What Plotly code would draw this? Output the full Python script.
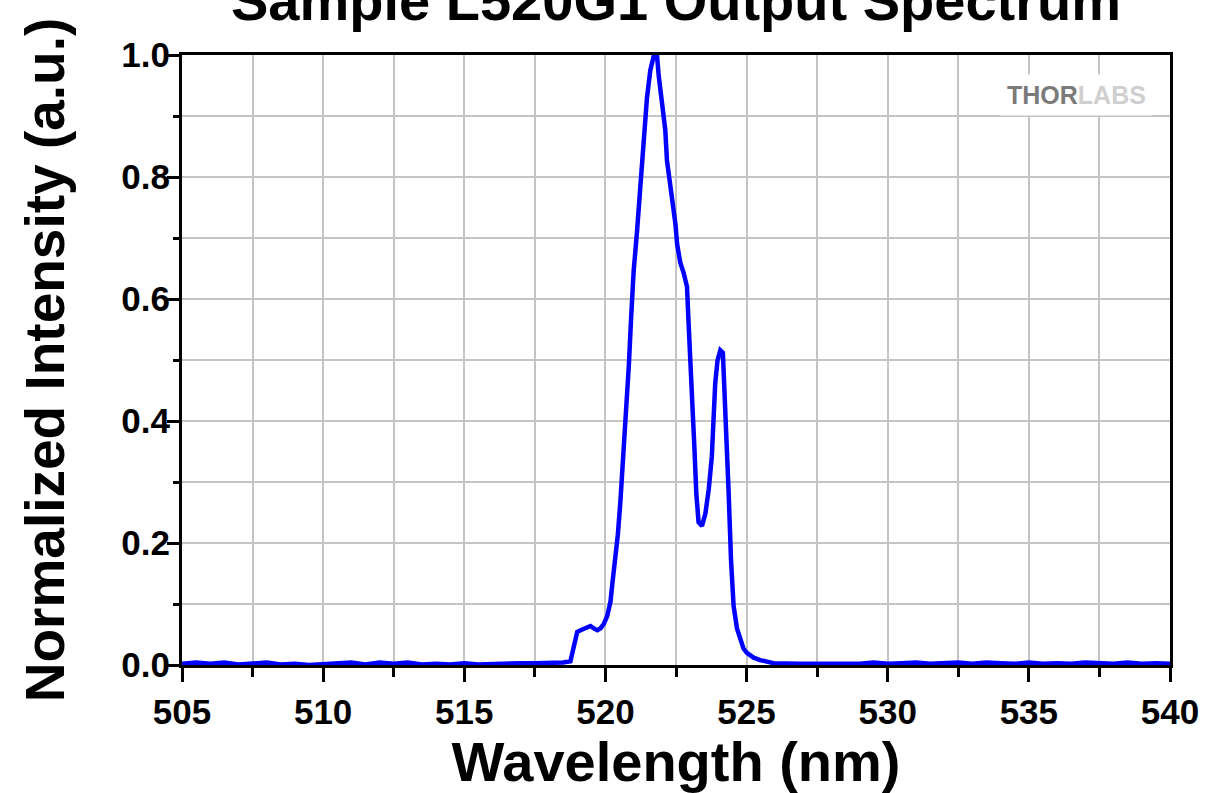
import plotly.graph_objects as go

FONT = "Arial, Liberation Sans, sans-serif"

wavelength_nm = [
    505.0, 505.5, 506.0, 506.5, 507.0, 507.5, 508.0, 508.5, 509.0, 509.5,
    510.0, 510.5, 511.0, 511.5, 512.0, 512.5, 513.0, 513.5, 514.0, 514.5,
    515.0, 515.5, 516.0, 516.5, 517.0, 517.5, 518.0, 518.5, 518.76, 518.82,
    518.94, 519.00, 519.12, 519.29, 519.47, 519.59, 519.71, 519.82, 519.94, 520.06,
    520.18, 520.24, 520.35, 520.44, 520.53, 520.63, 520.71, 520.83, 520.91, 521.00,
    521.12, 521.21, 521.30, 521.42, 521.47, 521.59, 521.71, 521.77, 521.83, 521.89,
    522.00, 522.12, 522.18, 522.30, 522.42, 522.48, 522.54, 522.65, 522.77, 522.89,
    522.95, 523.07, 523.15, 523.22, 523.30, 523.42, 523.54, 523.66, 523.77, 523.83,
    523.89, 523.97, 524.07, 524.16, 524.25, 524.36, 524.45, 524.54, 524.66, 524.78,
    524.89, 525.01, 525.25, 525.48, 525.96, 526.90, 527.5, 528.0, 528.5, 529.0,
    529.5, 530.0, 530.5, 531.0, 531.5, 532.0, 532.5, 533.0, 533.5, 534.0,
    534.5, 535.0, 535.5, 536.0, 536.5, 537.0, 537.5, 538.0, 538.5, 539.0,
    539.5, 540.0,
]

intensity = [
    0.002, 0.004, 0.002, 0.004, 0.001, 0.003, 0.004, 0.001, 0.002, 0.000,
    0.001, 0.002, 0.004, 0.001, 0.004, 0.002, 0.004, 0.001, 0.002, 0.001,
    0.003, 0.001, 0.002, 0.003, 0.003, 0.003, 0.003, 0.004, 0.006, 0.020,
    0.040, 0.054, 0.057, 0.060, 0.064, 0.060, 0.057, 0.060, 0.067, 0.080,
    0.104, 0.131, 0.171, 0.214, 0.268, 0.335, 0.409, 0.492, 0.569, 0.646,
    0.711, 0.768, 0.820, 0.877, 0.929, 0.975, 0.998, 1.000, 0.998, 0.965,
    0.924, 0.877, 0.827, 0.787, 0.750, 0.723, 0.690, 0.660, 0.643, 0.620,
    0.556, 0.455, 0.358, 0.281, 0.234, 0.228, 0.248, 0.288, 0.342, 0.403,
    0.462, 0.499, 0.516, 0.512, 0.425, 0.288, 0.171, 0.097, 0.060, 0.040,
    0.027, 0.020, 0.012, 0.008, 0.003, 0.002, 0.002, 0.002, 0.003, 0.002,
    0.004, 0.002, 0.003, 0.004, 0.002, 0.003, 0.004, 0.002, 0.004, 0.003,
    0.002, 0.004, 0.002, 0.003, 0.002, 0.004, 0.003, 0.002, 0.004, 0.002,
    0.003, 0.002,
]

x_ticks = [505, 510, 515, 520, 525, 530, 535, 540]
y_ticks = [0.0, 0.2, 0.4, 0.6, 0.8, 1.0]

fig = go.Figure(go.Scatter(
    x=wavelength_nm, y=intensity,
    mode="lines",
    line=dict(color="#0000FF", width=4.5),
    showlegend=False,
))

grid = "#c4c4c4"
tick_font = dict(size=35, family=FONT, weight="bold")
fig.update_layout(
    width=1209, height=793,
    paper_bgcolor="white", plot_bgcolor="white",
    margin=dict(l=182, r=39, t=55, b=128, autoexpand=False),
    font=dict(family=FONT, color="black"),
    title=dict(
        text="<b>Sample L520G1 Output Spectrum</b>",
        font=dict(size=56, family=FONT),
        x=0.5, xref="paper", xanchor="center",
        y=1.0, yref="container", yanchor="middle",
        automargin=False,
    ),
)
fig.update_xaxes(
    range=[505, 540], tickvals=x_ticks, automargin=False,
    ticks="outside", ticklen=14, tickwidth=3, tickcolor="black",
    showline=True, linewidth=3, linecolor="black", mirror=True,
    showgrid=True, gridcolor=grid, gridwidth=2,
    minor=dict(dtick=2.5, ticks="outside", ticklen=9, tickwidth=3,
               tickcolor="black", showgrid=True, gridcolor=grid, gridwidth=2),
    tickfont=tick_font,
    title=dict(text="<b>Wavelength (nm)</b>", font=dict(size=56, family=FONT),
               standoff=8),
    zeroline=False,
)
fig.update_yaxes(
    range=[0, 1.0], tickvals=y_ticks, tickformat=".1f", automargin=False,
    ticks="outside", ticklen=12, tickwidth=3, tickcolor="black",
    ticklabelstandoff=-10,
    showline=True, linewidth=3, linecolor="black", mirror=True,
    showgrid=True, gridcolor=grid, gridwidth=2,
    minor=dict(dtick=0.1, ticks="outside", ticklen=6, tickwidth=3,
               tickcolor="black", showgrid=True, gridcolor=grid, gridwidth=2),
    tickfont=tick_font,
    title=dict(text="<b>Normalized Intensity (a.u.)</b>",
               font=dict(size=55, family=FONT), standoff=40),
    zeroline=False,
)

# THORLABS watermark in the top-right corner
fig.add_annotation(
    text="<b><span style='color:#7a7a7a'>THOR</span>"
         "<span style='color:#cfcfcf'>LABS</span></b>",
    xref="paper", yref="paper", x=0.983, y=0.935,
    xanchor="right", yanchor="middle", showarrow=False,
    font=dict(size=25, family=FONT),
    bgcolor="white", borderpad=6,
)

fig.write_html("out.html", config={"displayModeBar": False},
               post_script="document.body.style.margin='0';")
